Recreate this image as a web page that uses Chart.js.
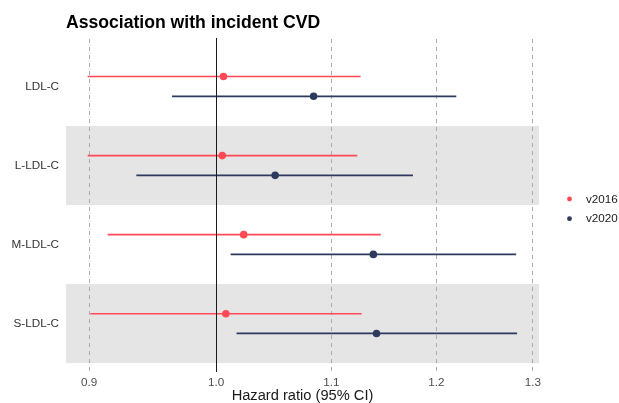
<!DOCTYPE html>
<html><head><meta charset="utf-8">
<script src="https://cdn.jsdelivr.net/npm/chart.js@4"></script>
<style>html,body{margin:0;padding:0;background:#fff}#wrap{width:619px;height:403px;position:relative}</style>
</head><body><div id="wrap"><canvas id="c"></canvas></div>
<script>
const categories = ['LDL-C', 'L-LDL-C', 'M-LDL-C', 'S-LDL-C'];
const seriesNames = ['v2016', 'v2020'];
const hr2016 = [1.006, 1.005, 1.023, 1.008];
const lo2016 = [0.899, 0.899, 0.914, 0.901];
const hi2016 = [1.127, 1.124, 1.146, 1.128];
const hr2020 = [1.084, 1.050, 1.139, 1.142];
const lo2020 = [0.964, 0.936, 1.012, 1.017];
const hi2020 = [1.220, 1.177, 1.282, 1.283];
const xTicks = [0.9, 1.0, 1.1, 1.2, 1.3];
const chartTitle = 'Association with incident CVD';
const xTitle = 'Hazard ratio (95% CI)';

const colors = ['#FF4A55', '#2D3A5E'];
const FONT = "'Liberation Sans', Arial, Helvetica, sans-serif";
const dodge = 0.125;

function segData(lo, hi, off) {
  const out = [];
  categories.forEach((c, i) => {
    const y = i + 1 + off;
    out.push({x: lo[i], y: y}, {x: hi[i], y: y}, {x: hi[i], y: null});
  });
  return out;
}
function ptData(hr, off) {
  return categories.map((c, i) => ({x: hr[i], y: i + 1 + off}));
}

const series = [
  {name: seriesNames[0], hr: hr2016, lo: lo2016, hi: hi2016, off: -dodge, color: colors[0], lw: 1.6},
  {name: seriesNames[1], hr: hr2020, lo: lo2020, hi: hi2020, off: dodge, color: colors[1], lw: 1.8}
];

const datasets = [];
series.forEach(s => {
  datasets.push({label: s.name + ' CI', data: segData(s.lo, s.hi, s.off), borderColor: s.color,
    borderWidth: s.lw, pointRadius: 0, spanGaps: false, showLine: true, fill: false});
});
series.forEach(s => {
  datasets.push({label: s.name, data: ptData(s.hr, s.off), showLine: false, pointRadius: 3.8,
    pointHoverRadius: 3.8, pointBackgroundColor: s.color, pointBorderColor: s.color, borderColor: s.color, pointBorderWidth: 0});
});

const decor = {
  id: 'decor',
  beforeDraw(chart) {
    const {ctx, chartArea: a, scales: {y}} = chart;
    ctx.save();
    ctx.fillStyle = '#E5E5E5';
    categories.forEach((c, i) => {
      if (i % 2 === 1) {
        const t = y.getPixelForValue(i + 0.5), b = y.getPixelForValue(i + 1.5);
        ctx.fillRect(a.left, Math.min(t, b), a.right - a.left, Math.abs(b - t));
      }
    });
    ctx.restore();
  },
  afterDatasetsDraw(chart) {
    const {ctx, chartArea: a, scales: {x}} = chart;
    ctx.save();
    const px = Math.round(x.getPixelForValue(1.0)) + 0.5;
    ctx.strokeStyle = '#1a1a1a';
    ctx.lineWidth = 1;
    ctx.beginPath(); ctx.moveTo(px, a.top - 1); ctx.lineTo(px, a.bottom + 1); ctx.stroke();
    ctx.restore();
  },
  afterDraw(chart) {
    const {ctx, chartArea: a} = chart;
    ctx.save();
    ctx.fillStyle = '#000';
    ctx.font = 'bold 17.6px ' + FONT;
    ctx.textBaseline = 'alphabetic';
    ctx.textAlign = 'left';
    ctx.fillText(chartTitle, a.left, 28);
    const cy = (a.top + a.bottom) / 2;
    series.forEach((s, i) => {
      const yy = cy - 6 + i * 19.7;
      ctx.fillStyle = s.color;
      ctx.beginPath(); ctx.arc(569.5, yy, 2.4, 0, Math.PI * 2); ctx.fill();
      ctx.fillStyle = '#1a1a1a';
      ctx.font = '11.7px ' + FONT;
      ctx.textBaseline = 'middle';
      ctx.fillText(s.name, 586, yy + 0.5);
    });
    ctx.restore();
  }
};

new Chart(document.getElementById('c'), {
  type: 'line',
  data: {datasets},
  plugins: [decor],
  options: {
    responsive: true,
    maintainAspectRatio: false,
    animation: false,
    events: [],
    layout: {padding: {top: 39, right: 80, bottom: 0, left: 0}},
    plugins: {legend: {display: false}, title: {display: false}, tooltip: {enabled: false}},
    scales: {
      x: {
        type: 'logarithmic',
        bounds: 'data',
        min: 0.883, max: 1.3065,
        afterBuildTicks: s => { s.ticks = xTicks.map(v => ({value: v})); },
        afterFit: s => { s.height = 32; },
        ticks: {callback: v => Number(v).toFixed(1), color: '#4D4D4D', padding: 5,
          font: {family: FONT, size: 11.7}, maxRotation: 0, autoSkip: false},
        grid: {color: '#ABABAB', lineWidth: 1, drawTicks: false},
        border: {display: false, dash: [4, 4]},
        title: {display: true, text: xTitle, color: '#1a1a1a', font: {family: FONT, size: 14.67, lineHeight: 1.0},
          padding: {top: 0, bottom: 0}}
      },
      y: {
        type: 'linear',
        reverse: true,
        min: 0.4, max: 4.6,
        afterBuildTicks: s => { s.ticks = categories.map((c, i) => ({value: i + 1})); },
        afterFit: s => { s.width = 66; },
        ticks: {callback: v => categories[Math.round(v) - 1], color: '#333', padding: 7,
          font: {family: FONT, size: 11.7}, autoSkip: false},
        grid: {display: false, drawTicks: false},
        border: {display: false}
      }
    }
  }
});
</script>
</body></html>
